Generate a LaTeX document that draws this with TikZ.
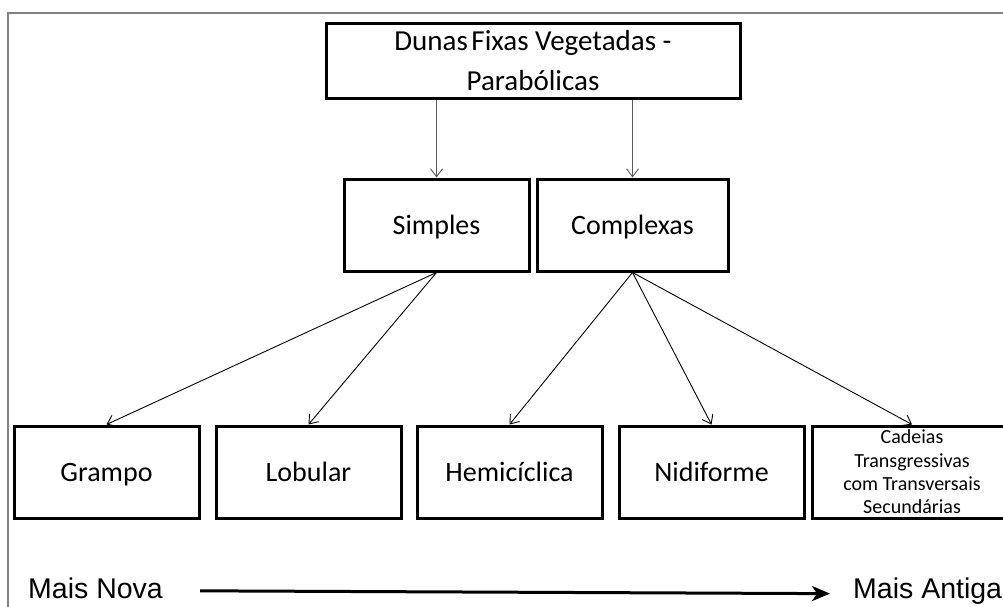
\documentclass[tikz,border=0pt]{standalone}
\usepackage{fontspec}
\setmainfont{Carlito}
\newfontfamily\axisfont{Liberation Sans}
\usetikzlibrary{arrows.meta}
\definecolor{framegray}{RGB}{128,128,128}
\definecolor{linkgray}{RGB}{90,90,90}

\begin{document}
\begin{tikzpicture}[x=1pt,y=-1pt,
  dunebox/.style={draw,line width=3pt,inner sep=0pt,align=center,
    minimum width=185pt,minimum height=92pt,font=\fontsize{28}{34}\selectfont},
  oneline/.style={text height=18pt,text depth=0pt},
  link/.style={-{Straight Barb[length=8pt,width=12pt]},line width=0.9pt},
  axislabel/.style={anchor=base west,inner sep=0pt,font=\axisfont\fontsize{28.5}{32}\selectfont}]
\useasboundingbox (0,0) rectangle (1003,606);
\clip (0,0) rectangle (1003,606);
% outer frame
\draw[framegray,line width=1.5pt] (8,13) rectangle (1020,630);

% top level
\node[dunebox,minimum width=414pt,minimum height=75pt,
  font=\fontsize{29}{40}\selectfont] (parab) at (533,60.5)
  {Dunas\hspace{-3pt} Fixas Vegetadas -\\Parabólicas};

% second level
\node[dunebox,oneline] (simples) at (436.5,225) {Simples};
\node[dunebox,oneline,minimum width=191pt] (complexas) at (632.5,225) {Complexas};

% third level
\node[dunebox,oneline] (grampo) at (106.5,472) {Grampo};
\node[dunebox,oneline] (lobular) at (308.5,472) {Lobular};
\node[dunebox,oneline] (hemi) at (509.5,472) {Hemicíclica};
\node[dunebox,oneline] (nidi) at (711.5,472) {Nidiforme};
\node[dunebox,minimum width=200pt,inner ysep=-1.5pt,font=\fontsize{20}{23.3}\selectfont] (cadeias) at (912,472)
  {Cadeias\\Transgressivas\\com Transversais\\Secundárias};

\draw[link,linkgray] (simples.north |- parab.south) -- (simples.north);
\draw[link,linkgray] (complexas.north |- parab.south) -- (complexas.north);
\foreach \t in {grampo,lobular} \draw[link] (simples.south) -- (\t.north);
\foreach \t in {hemi,nidi,cadeias} \draw[link] (complexas.south) -- (\t.north);

% age axis
\node[axislabel] (nova) at (28,598) {Mais Nova};
\node[axislabel] (antiga) at (853,598) {Mais Antiga};
\draw[line width=3pt,-{Stealth[length=18pt,width=15pt,inset=5pt]}]
  ([xshift=37pt,yshift=-3pt]nova.east) -- ([xshift=-23pt,yshift=-3pt]antiga.west);
\end{tikzpicture}
\end{document}
